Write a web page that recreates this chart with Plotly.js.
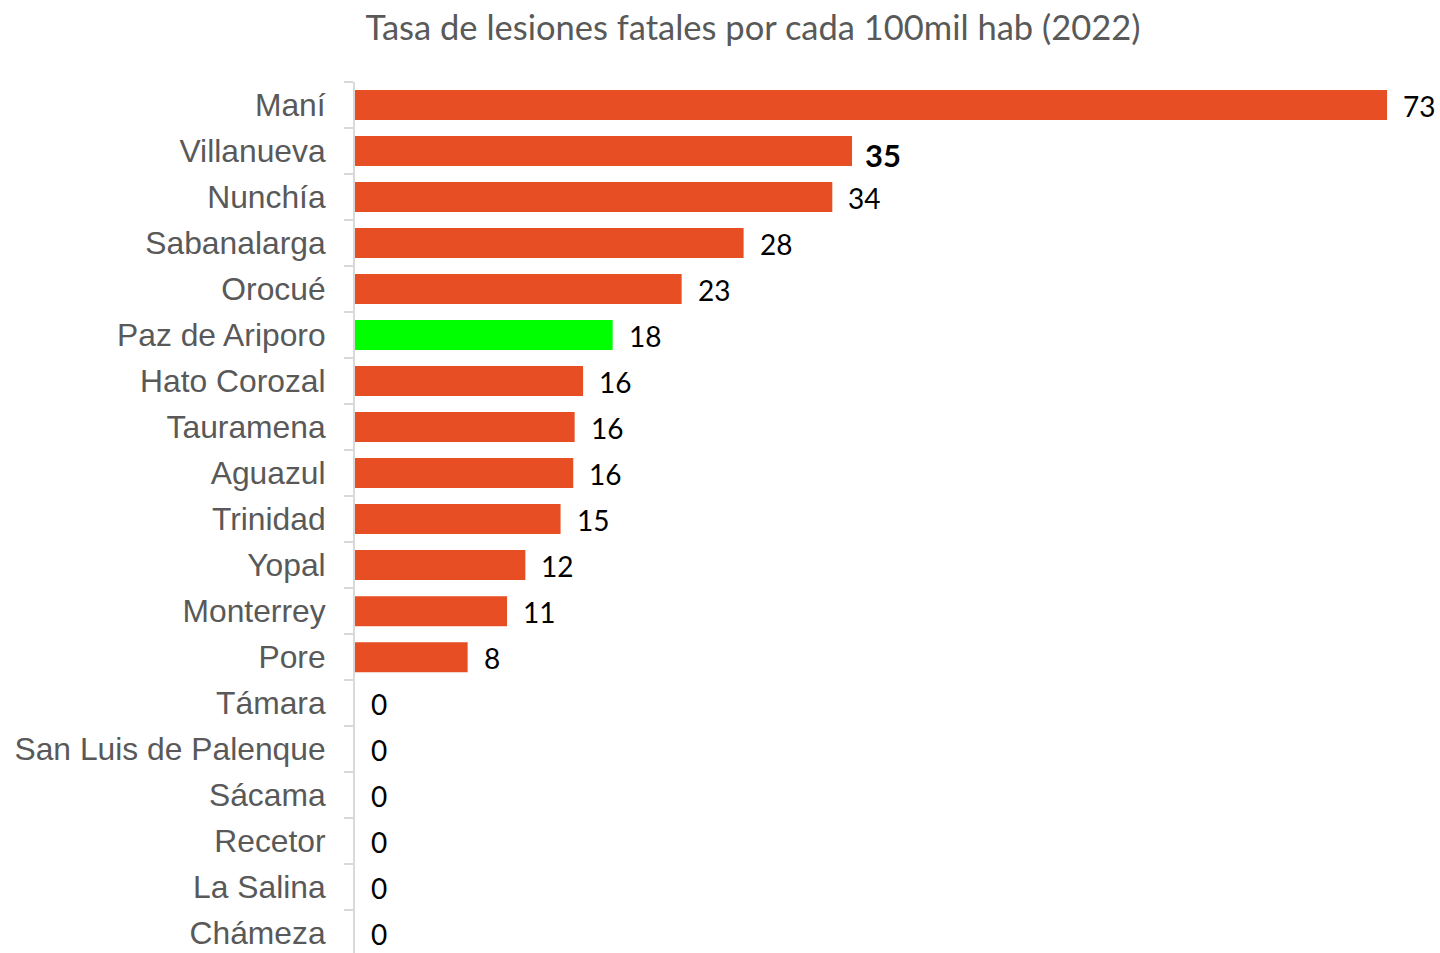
<!DOCTYPE html>
<html>
<head>
<meta charset="utf-8">
<script src="https://cdn.plot.ly/plotly-3.0.1.min.js"></script>
<style>
  html, body { margin: 0; padding: 0; background: #ffffff; }
  #chart { width: 1440px; height: 953px; }
</style>
</head>
<body>
<div id="chart"></div>
<script>
// ---- Data ----
const municipios = [
  "Maní", "Villanueva", "Nunchía", "Sabanalarga", "Orocué", "Paz de Ariporo",
  "Hato Corozal", "Tauramena", "Aguazul", "Trinidad", "Yopal", "Monterrey",
  "Pore", "Támara", "San Luis de Palenque", "Sácama", "Recetor", "La Salina", "Chámeza"
];
const tasas = [73.3, 35.3, 33.9, 27.6, 23.2, 18.3, 16.2, 15.6, 15.5, 14.6, 12.1, 10.8, 8.0, 0, 0, 0, 0, 0, 0];
const resaltado = "Paz de Ariporo";
const destacadoNegrita = "Villanueva";
const titulo = "Tasa de lesiones fatales por cada 100mil hab (2022)";

// ---- Styles ----
const colorBarra = "#E84E24";
const colorResaltado = "#00FF00";
const colores = municipios.map(m => m === resaltado ? colorResaltado : colorBarra);

const trace = {
  type: "bar",
  orientation: "h",
  x: tasas,
  y: municipios,
  marker: { color: colores, line: { width: 0 } },
  hoverinfo: "x+y"
};

const annotations = municipios.map((m, i) => {
  const txt = String(Math.round(tasas[i]));
  const bold = m === destacadoNegrita;
  return {
    x: tasas[i], y: m, xref: "x", yref: "y",
    text: bold ? "<b>" + txt + "</b>" : txt,
    showarrow: false,
    xanchor: "left", yanchor: "middle",
    xshift: bold ? 11 : 14,
    yshift: bold ? -4 : -1,
    font: { family: "Lato, 'Open Sans', sans-serif", size: bold ? 31 : 28, color: "#000000" }
  };
});

const layout = {
  width: 1440, height: 953,
  paper_bgcolor: "#ffffff", plot_bgcolor: "#ffffff",
  margin: { l: 355, r: 0, t: 82, b: 0, pad: 0 },
  showlegend: false,
  bargap: 0.348,
  title: {
    text: titulo,
    font: { family: "Lato, 'Open Sans', sans-serif", size: 34.5, color: "#595959" },
    x: 753 / 1440, xanchor: "center", xref: "container",
    y: 1 - 28 / 953, yanchor: "middle", yref: "container"
  },
  xaxis: {
    range: [0, 77.06],
    showgrid: false, zeroline: false, showline: false,
    showticklabels: false, ticks: ""
  },
  yaxis: {
    type: "category",
    categoryorder: "array",
    categoryarray: municipios,
    range: [18.43, -0.5],
    showgrid: false, zeroline: false,
    showline: true, linecolor: "#d9d9d9", linewidth: 2,
    ticks: "outside", tickson: "boundaries", ticklen: 9, tickwidth: 2, tickcolor: "#d9d9d9",
    ticklabelstandoff: 21,
    tickfont: { family: "'Liberation Sans', Arial, sans-serif", size: 31.8, color: "#595959" }
  },
  annotations: annotations
};

Plotly.newPlot("chart", [trace], layout, { displayModeBar: false, staticPlot: true });
</script>
</body>
</html>
